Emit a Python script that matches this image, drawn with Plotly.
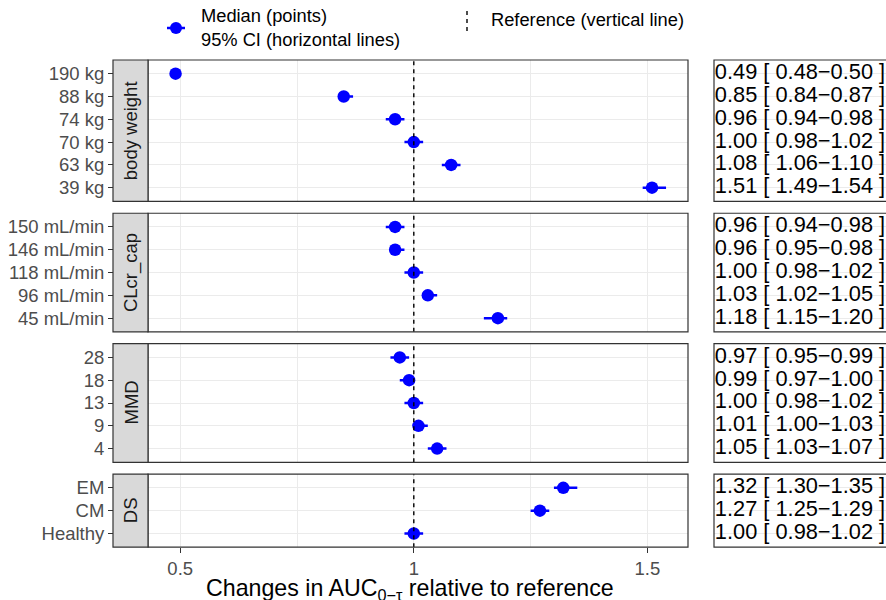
import plotly.graph_objects as go

# ---------------- data ----------------
strip_labels = ["body weight", "CLcr_cap", "MMD", "DS"]

bw_labels = ["190 kg", "88 kg", "74 kg", "70 kg", "63 kg", "39 kg"]
bw_median = [0.49, 0.85, 0.96, 1.00, 1.08, 1.51]
bw_lower = [0.48, 0.84, 0.94, 0.98, 1.06, 1.49]
bw_upper = [0.50, 0.87, 0.98, 1.02, 1.10, 1.54]

cl_labels = ["150 mL/min", "146 mL/min", "118 mL/min", "96 mL/min", "45 mL/min"]
cl_median = [0.96, 0.96, 1.00, 1.03, 1.18]
cl_lower = [0.94, 0.95, 0.98, 1.02, 1.15]
cl_upper = [0.98, 0.98, 1.02, 1.05, 1.20]

mmd_labels = ["28", "18", "13", "9", "4"]
mmd_median = [0.97, 0.99, 1.00, 1.01, 1.05]
mmd_lower = [0.95, 0.97, 0.98, 1.00, 1.03]
mmd_upper = [0.99, 1.00, 1.02, 1.03, 1.07]

ds_labels = ["EM", "CM", "Healthy"]
ds_median = [1.32, 1.27, 1.00]
ds_lower = [1.30, 1.25, 0.98]
ds_upper = [1.35, 1.29, 1.02]

reference_value = 1.0
x_tickvals = [0.5, 1.0, 1.5]
x_ticktext = ["0.5", "1", "1.5"]
x_minor_tickvals = [0.75, 1.25]

groups = [
    (strip_labels[0], bw_labels, bw_median, bw_lower, bw_upper),
    (strip_labels[1], cl_labels, cl_median, cl_lower, cl_upper),
    (strip_labels[2], mmd_labels, mmd_median, mmd_lower, mmd_upper),
    (strip_labels[3], ds_labels, ds_median, ds_lower, ds_upper),
]

# ---------------- layout geometry (pixels) ----------------
W, H = 886, 600
FONT = "Liberation Sans, Arial, sans-serif"
BLUE = "#0000ff"
GRID = "#ebebeb"
BORDER = "#333333"
TICK_SIZE = 18.5
LEGEND_SIZE = 18.3
TABLE_SIZE = 21.8
TITLE_SIZE = 23.2

panel_x0, panel_x1 = 148, 688
strip_x0 = 113
table_x0 = 714
row_pitch = 22.8
gap = 11.9
top0 = 60
x_range = [0.431, 1.587]


def px(p):
    return p / W


def py(p):
    return 1 - p / H


def aid(letter, k):
    return letter if k == 1 else f"{letter}{k}"


fig = go.Figure()
layout_axes = {}
shapes = []
annotations = []

top = top0
for i, (strip, labels, med, lo, hi) in enumerate(groups):
    k = i + 1
    tk = k + 4
    n = len(labels)
    bottom = top + (n + 0.2) * row_pitch
    ydom = [py(bottom), py(top)]
    cat_order = list(reversed(labels))
    yr = [-0.6, n - 0.4]

    xk, yk = aid("x", k), aid("y", k)
    xt, yt = aid("x", tk), aid("y", tk)

    # forest points with CI
    fig.add_trace(go.Scatter(
        x=med, y=labels, mode="markers",
        marker=dict(color=BLUE, size=12.5),
        error_x=dict(type="data", symmetric=False,
                     array=[h - m for h, m in zip(hi, med)],
                     arrayminus=[m - l for m, l in zip(med, lo)],
                     color=BLUE, thickness=2.5, width=0),
        xaxis=xk, yaxis=yk, showlegend=False, hoverinfo="skip",
        cliponaxis=False,
    ))
    # table text
    fig.add_trace(go.Scatter(
        x=[0] * n, y=labels, mode="text",
        text=[f"{m:.2f} [ {l:.2f}\u2212{h:.2f} ]" for m, l, h in zip(med, lo, hi)],
        textposition="middle right",
        textfont=dict(family=FONT, size=TABLE_SIZE, color="black"),
        xaxis=xt, yaxis=yt, showlegend=False, hoverinfo="skip",
        cliponaxis=False,
    ))

    is_bottom = (k == len(groups))
    layout_axes[aid("xaxis", k)] = dict(
        domain=[px(panel_x0), px(panel_x1)], anchor=yk, range=x_range,
        tickvals=x_tickvals, ticktext=x_ticktext,
        showticklabels=is_bottom, ticks="outside" if is_bottom else "",
        ticklen=5, tickwidth=1.1, tickcolor=BORDER,
        tickfont=dict(family=FONT, size=TICK_SIZE, color="#4d4d4d"),
        showgrid=True, gridcolor=GRID, gridwidth=1.1,
        minor=dict(tickvals=x_minor_tickvals, showgrid=True, gridcolor=GRID, gridwidth=0.6, ticks=""),
        zeroline=False, showline=False,
    )
    layout_axes[aid("yaxis", k)] = dict(
        domain=ydom, anchor="free", position=px(strip_x0),
        type="category", categoryorder="array", categoryarray=cat_order, range=yr,
        ticks="outside", ticklen=5, tickwidth=1.1, tickcolor=BORDER,
        tickfont=dict(family=FONT, size=TICK_SIZE, color="#4d4d4d"),
        showgrid=True, gridcolor=GRID, gridwidth=1.1,
        zeroline=False, showline=False,
    )
    layout_axes[aid("xaxis", tk)] = dict(
        domain=[px(table_x0), 1.0], anchor=yt, range=[-0.005, 1],
        showgrid=False, showticklabels=False, zeroline=False, ticks="",
    )
    layout_axes[aid("yaxis", tk)] = dict(
        domain=ydom, anchor=xt,
        type="category", categoryorder="array", categoryarray=cat_order, range=yr,
        showgrid=True, gridcolor=GRID, gridwidth=1.1,
        showticklabels=False, ticks="", zeroline=False,
    )

    # reference line
    shapes.append(dict(type="line", xref=xk, yref=f"{yk} domain",
                       x0=reference_value, x1=reference_value, y0=0, y1=1,
                       line=dict(color="black", width=1.4, dash="4px,4px"), layer="above"))
    # panel border
    shapes.append(dict(type="rect", xref="paper", yref=f"{yk} domain",
                       x0=px(panel_x0), x1=px(panel_x1), y0=0, y1=1,
                       line=dict(color=BORDER, width=1.2), fillcolor="rgba(0,0,0,0)", layer="above"))
    # strip
    shapes.append(dict(type="rect", xref="paper", yref=f"{yk} domain",
                       x0=px(strip_x0), x1=px(panel_x0), y0=0, y1=1,
                       line=dict(color=BORDER, width=1.2), fillcolor="#d9d9d9", layer="above"))
    annotations.append(dict(text=strip, xref="paper", yref=f"{yk} domain",
                            x=px((strip_x0 + panel_x0) / 2), y=0.5, textangle=-90,
                            showarrow=False, font=dict(family=FONT, size=TICK_SIZE, color="#1a1a1a"),
                            xanchor="center", yanchor="middle"))
    # table border
    shapes.append(dict(type="rect", xref="paper", yref=f"{yt} domain",
                       x0=px(table_x0), x1=1.02, y0=0, y1=1,
                       line=dict(color=BORDER, width=1.2), fillcolor="rgba(0,0,0,0)", layer="above"))

    top = bottom + gap

# x axis title
annotations.append(dict(text="Changes in AUC<sub>0\u2212\u03c4</sub> relative to reference",
                        xref="paper", yref="paper", x=px(410), y=py(589),
                        showarrow=False, xanchor="center", yanchor="middle",
                        font=dict(family=FONT, size=TITLE_SIZE, color="black")))

# manual legend
lx, ly = 176, 28
shapes.append(dict(type="line", xref="paper", yref="paper",
                   x0=px(lx - 9), x1=px(lx + 9), y0=py(ly), y1=py(ly),
                   line=dict(color=BLUE, width=2.5)))
shapes.append(dict(type="circle", xref="paper", yref="paper",
                   x0=px(lx - 6), x1=px(lx + 6), y0=py(ly - 6), y1=py(ly + 6),
                   fillcolor=BLUE, line=dict(color=BLUE, width=0)))
annotations.append(dict(text="Median (points)<br>95% CI (horizontal lines)",
                        xref="paper", yref="paper", x=px(199), y=py(28),
                        showarrow=False, xanchor="left", yanchor="middle", align="left",
                        font=dict(family=FONT, size=LEGEND_SIZE, color="black")))
shapes.append(dict(type="line", xref="paper", yref="paper",
                   x0=px(467), x1=px(467), y0=py(11), y1=py(35),
                   line=dict(color="black", width=1.4, dash="4px,4px")))
annotations.append(dict(text="Reference (vertical line)",
                        xref="paper", yref="paper", x=px(489), y=py(20),
                        showarrow=False, xanchor="left", yanchor="middle", align="left",
                        font=dict(family=FONT, size=LEGEND_SIZE, color="black")))

fig.update_layout(
    width=W, height=H, margin=dict(l=0, r=0, t=0, b=0),
    paper_bgcolor="white", plot_bgcolor="white",
    font=dict(family=FONT),
    shapes=shapes, annotations=annotations, showlegend=False,
    **layout_axes,
)

fig.write_html("out.html")
